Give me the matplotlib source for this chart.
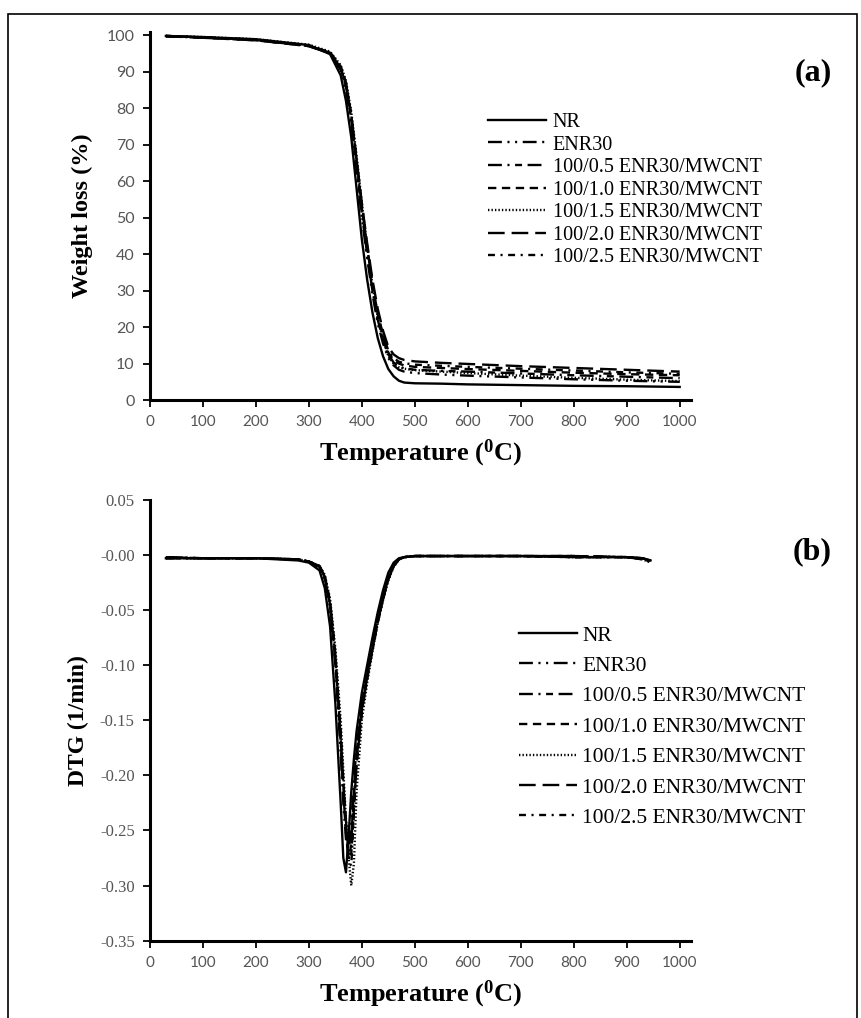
import numpy as np
import matplotlib
matplotlib.use("Agg")
import matplotlib.pyplot as plt
from matplotlib.patches import Rectangle

plt.rcParams['lines.scale_dashes'] = False

# legend labels and line styles
labels = ["NR", "ENR30", "100/0.5 ENR30/MWCNT", "100/1.0 ENR30/MWCNT",
          "100/1.5 ENR30/MWCNT", "100/2.0 ENR30/MWCNT", "100/2.5 ENR30/MWCNT"]
styles = ["-", (0, (10, 4, 1.5, 4, 1.5, 4)), (0, (10, 4, 1.5, 4, 5, 4)),
          (0, (6, 4)), (0, (1, 1.5)), (0, (12, 5)), (0, (5, 4, 1.5, 4))]

# (a) TGA - temperature grid and weight (%) per sample
T_tga = [30, 100, 200, 300, 340, 360, 370, 380, 390, 400, 410, 420, 430,
         440, 450, 460, 470, 480, 500, 550, 600, 700, 800, 900, 1000]
w_nr = [99.8, 99.5, 98.9, 97.3, 94.8, 89, 82, 72, 58, 44, 33, 24, 17,
        12, 8.5, 6.5, 5.3, 4.8, 4.6, 4.5, 4.3, 4.1, 3.9, 3.8, 3.6]
w_enr = [99.8, 99.4, 98.7, 97.0, 95.0, 90.5, 85, 76, 63, 50, 39, 29, 21,
         15.5, 11.5, 9.5, 8.3, 7.8, 7.4, 7.0, 6.7, 6.2, 5.7, 5.3, 5.0]
w_05 = [99.7, 99.3, 98.6, 97.1, 95.2, 91, 86, 77, 64, 51, 40, 30, 22,
        16.5, 12.5, 10.3, 9.2, 8.7, 8.3, 8.0, 7.8, 7.3, 6.8, 6.4, 6.0]
w_10 = [99.8, 99.4, 98.8, 97.2, 95.3, 91.5, 87, 78, 66, 53, 42, 32, 23.5,
        17.5, 13, 11, 10, 9.5, 9.1, 8.8, 8.5, 8.0, 7.5, 7.1, 6.8]
w_15 = [99.8, 99.5, 98.9, 97.4, 95.5, 91.8, 87.5, 79, 67, 54, 42, 31.5, 22.5,
        16.5, 12, 10, 9, 8.6, 8.2, 7.8, 7.4, 6.7, 6.1, 5.6, 5.2]
w_20 = [99.7, 99.3, 98.6, 97.0, 95.0, 91, 86.5, 78, 66, 54, 43, 33, 25,
        19, 14.5, 12.5, 11.5, 11, 10.6, 10.2, 9.9, 9.3, 8.8, 8.3, 7.8]
w_25 = [99.8, 99.4, 98.7, 97.1, 95.1, 91.2, 86.8, 78, 65.5, 52.5, 41.5, 31.5, 23.5,
        18, 13.5, 11.5, 10.5, 10.1, 9.7, 9.4, 9.1, 8.6, 8.1, 7.6, 7.2]

# (b) DTG - temperature grid and rate (1/min) per sample
T_dtg = [30, 100, 200, 280, 300, 320, 330, 340, 350, 360, 365, 370, 375, 380,
         385, 390, 400, 410, 420, 430, 440, 450, 460, 470, 480, 500, 600, 700,
         800, 900, 930, 945]
d_nr = [-0.003, -0.003, -0.003, -0.005, -0.007, -0.014, -0.030, -0.065, -0.135,
        -0.225, -0.275, -0.288, -0.255, -0.215, -0.185, -0.160, -0.125, -0.100,
        -0.075, -0.052, -0.032, -0.016, -0.007, -0.003, -0.002, -0.001, -0.001,
        -0.001, -0.002, -0.002, -0.003, -0.005]
d_enr = [-0.002, -0.003, -0.003, -0.004, -0.006, -0.011, -0.022, -0.048, -0.100,
         -0.180, -0.225, -0.258, -0.270, -0.245, -0.205, -0.175, -0.135, -0.108,
         -0.082, -0.058, -0.038, -0.020, -0.009, -0.004, -0.002, -0.001, -0.001,
         -0.001, -0.001, -0.002, -0.003, -0.006]
d_05 = [-0.003, -0.003, -0.003, -0.004, -0.006, -0.010, -0.020, -0.045, -0.095,
        -0.170, -0.215, -0.252, -0.278, -0.262, -0.220, -0.185, -0.140, -0.110,
        -0.085, -0.060, -0.040, -0.022, -0.010, -0.004, -0.002, -0.001, -0.001,
        -0.001, -0.002, -0.002, -0.004, -0.006]
d_10 = [-0.002, -0.003, -0.003, -0.004, -0.006, -0.010, -0.019, -0.042, -0.090,
        -0.160, -0.205, -0.245, -0.270, -0.272, -0.230, -0.190, -0.142, -0.112,
        -0.086, -0.061, -0.040, -0.022, -0.010, -0.004, -0.002, -0.001, -0.001,
        -0.001, -0.001, -0.002, -0.003, -0.005]
d_15 = [-0.003, -0.003, -0.003, -0.004, -0.006, -0.010, -0.018, -0.040, -0.085,
        -0.150, -0.195, -0.240, -0.275, -0.300, -0.280, -0.215, -0.150, -0.116,
        -0.088, -0.062, -0.041, -0.023, -0.011, -0.004, -0.002, -0.001, -0.001,
        -0.001, -0.002, -0.002, -0.004, -0.007]
d_20 = [-0.002, -0.003, -0.003, -0.004, -0.006, -0.011, -0.021, -0.045, -0.095,
        -0.165, -0.208, -0.242, -0.262, -0.258, -0.215, -0.180, -0.137, -0.110,
        -0.084, -0.060, -0.039, -0.021, -0.010, -0.004, -0.002, -0.001, -0.001,
        -0.001, -0.001, -0.002, -0.003, -0.005]
d_25 = [-0.003, -0.003, -0.003, -0.004, -0.006, -0.010, -0.020, -0.043, -0.092,
        -0.165, -0.210, -0.250, -0.278, -0.282, -0.235, -0.190, -0.142, -0.112,
        -0.086, -0.061, -0.040, -0.022, -0.010, -0.004, -0.002, -0.001, -0.001,
        -0.001, -0.002, -0.002, -0.004, -0.006]

tga = [w_nr, w_enr, w_05, w_10, w_15, w_20, w_25]
dtg = [d_nr, d_enr, d_05, d_10, d_15, d_20, d_25]

serif = "Liberation Serif"
tick_sans = "Lato"
gray = "#555555"

fig = plt.figure(figsize=(8.62, 10.18), dpi=100)
# outer frame
fig.patches.append(Rectangle((0.009, -0.01), 0.985, 0.996, transform=fig.transFigure,
                             fill=False, edgecolor="black", linewidth=1.2))

ax1 = fig.add_axes([0.174, 0.607, 0.628, 0.362])
ax2 = fig.add_axes([0.174, 0.076, 0.628, 0.433])

for ys, ls, lab in zip(tga, styles, labels):
    ax1.plot(T_tga, ys, color="black", linestyle=ls, linewidth=1.7, label=lab)
for ys, ls, lab in zip(dtg, styles, labels):
    ax2.plot(T_dtg, ys, color="black", linestyle=ls, linewidth=1.7, label=lab)

ax1.set_xlim(0, 1022)
ax1.set_ylim(0, 101)
ax1.set_xticks(np.arange(0, 1001, 100))
ax1.set_yticks(np.arange(0, 101, 10))
ax2.set_xlim(0, 1022)
ax2.set_ylim(-0.35, 0.05)
ax2.set_xticks(np.arange(0, 1001, 100))
ax2.set_yticks(np.arange(-0.35, 0.051, 0.05))
ax2.set_yticklabels([f"{v:.2f}" for v in np.arange(-0.35, 0.051, 0.05)])

for ax in (ax1, ax2):
    for s in ("top", "right"):
        ax.spines[s].set_visible(False)
    for s in ("left", "bottom"):
        ax.spines[s].set_linewidth(2.2)
    ax.tick_params(direction="out", length=5, width=1.3, pad=6, colors=gray)
    ax.tick_params(axis="both", which="both", color="black")
    for t in ax.get_xticklabels():
        t.set_fontfamily(tick_sans)
        t.set_fontsize(11)
        t.set_color(gray)
    ax.set_xlabel("Temperature ($\\mathregular{^{0}}$C)", fontfamily=serif,
                  fontsize=19, fontweight="bold", labelpad=6)

for t in ax1.get_yticklabels():
    t.set_fontfamily(tick_sans)
    t.set_fontsize(11.5)
    t.set_color(gray)
for t in ax2.get_yticklabels():
    t.set_fontfamily(serif)
    t.set_fontsize(12)
    t.set_color(gray)

ax1.set_ylabel("Weight loss (%)", fontfamily=serif, fontsize=17.5, fontweight="bold", labelpad=10)
ax2.set_ylabel("DTG (1/min)", fontfamily=serif, fontsize=17, fontweight="bold", labelpad=8)

fig.text(0.965, 0.929, "(a)", fontfamily=serif, fontsize=23, fontweight="bold", ha="right", va="center")
fig.text(0.965, 0.458, "(b)", fontfamily=serif, fontsize=23, fontweight="bold", ha="right", va="center")

ax1.legend(loc="upper left", bbox_to_anchor=(0.557, 0.897), bbox_transform=fig.transFigure,
           frameon=False, prop={"family": serif, "size": 14.5}, handlelength=2.85,
           handletextpad=0.35, labelspacing=0.17, borderaxespad=0)
ax2.legend(loc="upper left", bbox_to_anchor=(0.592, 0.394), bbox_transform=fig.transFigure,
           frameon=False, prop={"family": serif, "size": 15.5}, handlelength=2.7,
           handletextpad=0.25, labelspacing=0.48, borderaxespad=0)

fig.savefig("out.png", dpi=100)
